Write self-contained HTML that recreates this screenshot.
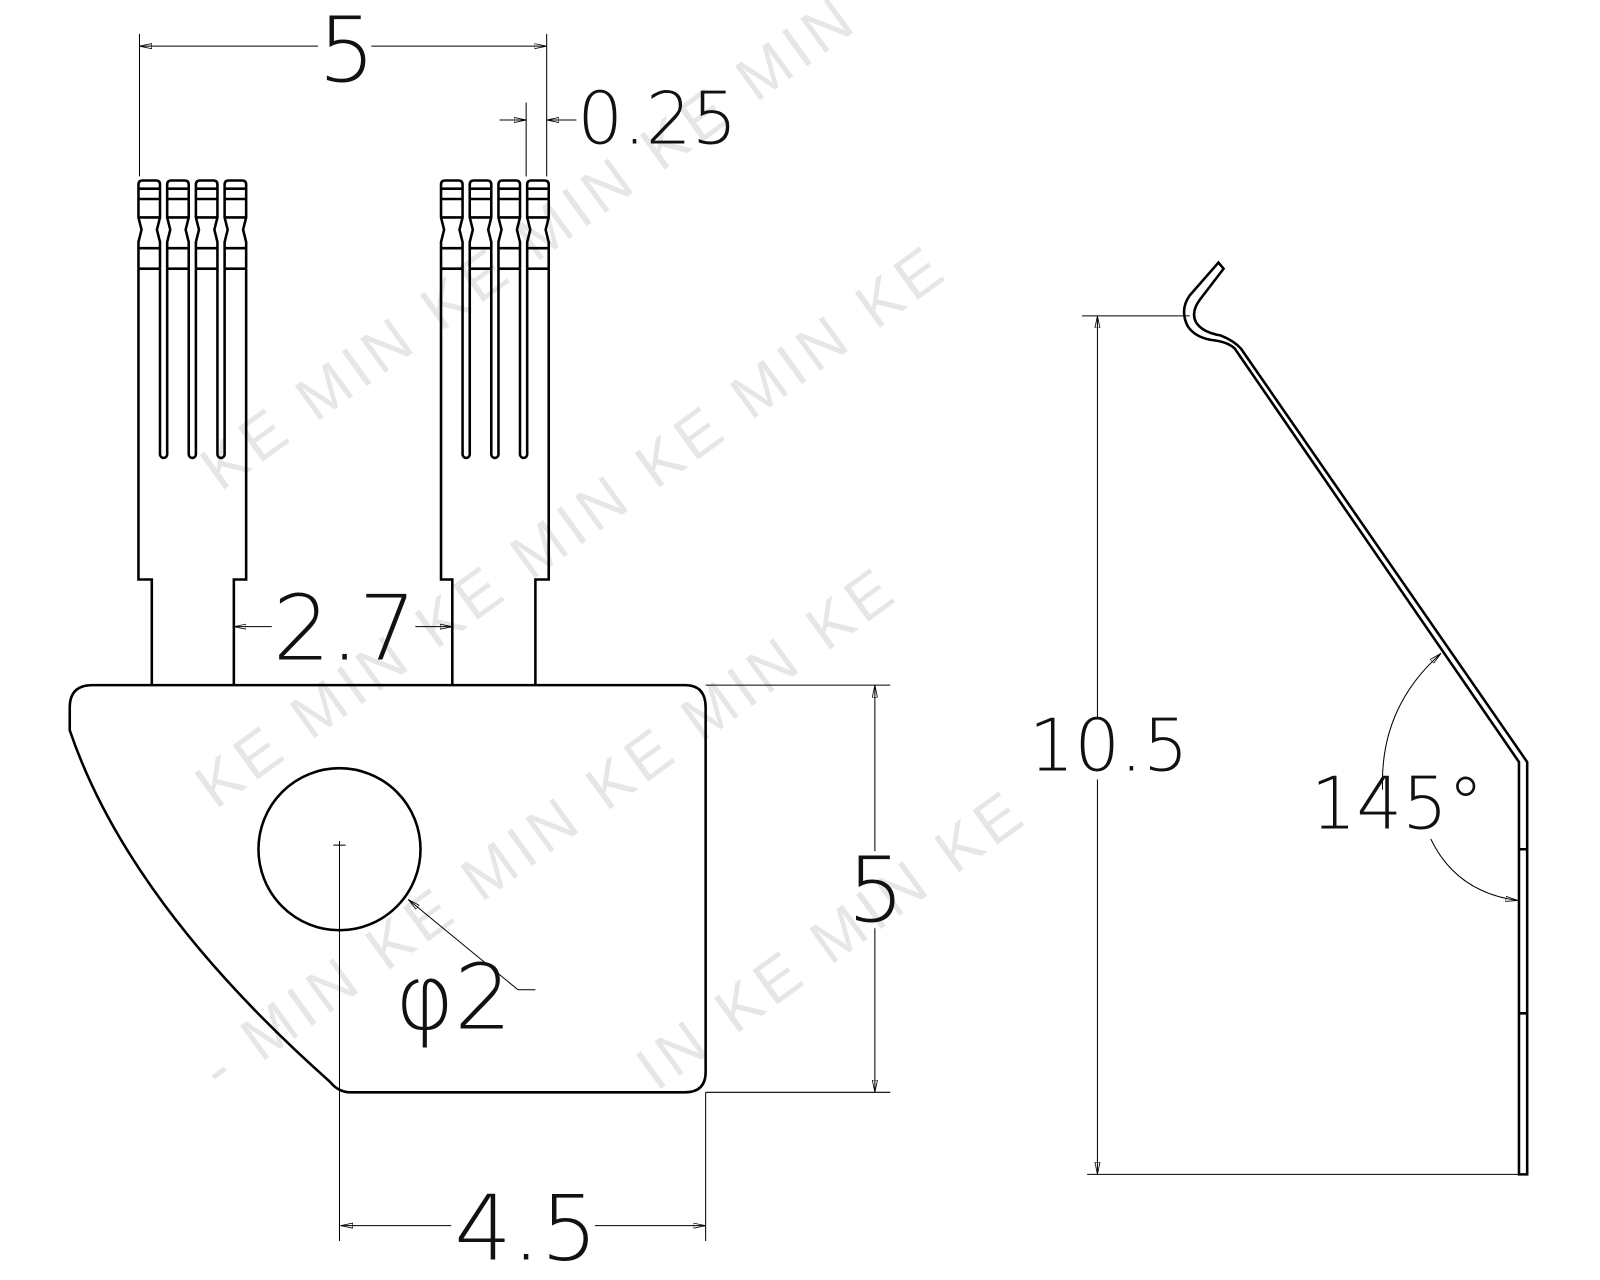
<!DOCTYPE html>
<html><head><meta charset="utf-8"><style>
html,body{margin:0;padding:0;background:#fff;}
svg{display:block;}
.d{font-family:"DejaVu Sans","Liberation Sans",sans-serif;font-weight:200;fill:#111;}
.w{font-family:"Liberation Sans",sans-serif;fill:#e6e6e6;font-size:60px;letter-spacing:6px;}
</style></head><body>
<svg width="1600" height="1280" viewBox="0 0 1560 1248" xmlns="http://www.w3.org/2000/svg">
<defs>
<marker id="a" viewBox="0 0 12 6" refX="12" refY="3" markerWidth="12" markerHeight="6" orient="auto-start-reverse" markerUnits="userSpaceOnUse"><path d="M0,0.5 L12,3 L0,5.5 Z" fill="none" stroke="#000" stroke-width="0.8"/></marker>
<g id="f" fill="none" stroke="#000" stroke-width="2.5">
<path d="M0,262 V236 L3,224 L0,212 V180 Q0,176 4,176 H17 Q21,176 21,180 V212 L18,224 L21,236 V262"/>
<path d="M0,184 H21 M0,194 H21 M0,212 H21 M0,242 H21 M0,262 H21"/>
</g>
</defs>
<g class="w">
<text transform="translate(215,480) rotate(-36)">KE MIN KE MIN KE MIN</text>
<text transform="translate(210,790) rotate(-36)">KE MIN KE MIN KE MIN KE</text>
<text transform="translate(215,1065) rotate(-36)">- MIN KE MIN KE MIN KE</text>
<text transform="translate(640,1065) rotate(-36)">IN KE MIN KE</text>
</g>
<g stroke="#000" stroke-width="1" fill="none">
<line x1="136" y1="33" x2="136" y2="172"/>
<line x1="533" y1="33" x2="533" y2="172"/>
<line x1="136" y1="45" x2="310" y2="45" marker-start="url(#a)"/>
<line x1="362" y1="45" x2="533" y2="45" marker-end="url(#a)"/>
<line x1="513" y1="100" x2="513" y2="172"/>
<line x1="487" y1="117" x2="513" y2="117" marker-end="url(#a)"/>
<line x1="562" y1="117" x2="533" y2="117" marker-end="url(#a)"/>
</g>
<text class="d" x="310" y="79" font-size="88">5</text>
<text class="d" x="563" y="140" font-size="70">0.25</text>
<use href="#f" x="135"/><use href="#f" x="163"/><use href="#f" x="191"/><use href="#f" x="219"/>
<use href="#f" x="430"/><use href="#f" x="458"/><use href="#f" x="486"/><use href="#f" x="514"/>
<g fill="none" stroke="#000" stroke-width="2.5">
<path d="M156,262 V443 A3.5,3.5 0 0 0 163,443 V262 M184,262 V443 A3.5,3.5 0 0 0 191,443 V262 M212,262 V443 A3.5,3.5 0 0 0 219,443 V262"/>
<path d="M451,262 V443 A3.5,3.5 0 0 0 458,443 V262 M479,262 V443 A3.5,3.5 0 0 0 486,443 V262 M507,262 V443 A3.5,3.5 0 0 0 514,443 V262"/>
<path d="M135,262 V565 H148 V668"/>
<path d="M240,262 V565 H228 V668"/>
<path d="M430,262 V565 H441 V668"/>
<path d="M535,262 V565 H522 V668"/>
<path d="M90,668 H668 Q688,668 688,690 V1045 Q688,1065 668,1065 H342 Q330,1065 322,1055 Q125,880 68,712 V690 Q68,668 90,668 Z"/>
<circle cx="331" cy="828" r="79"/>
</g>
<g stroke="#000" stroke-width="1" fill="none">
<line x1="265" y1="611" x2="228" y2="611" marker-end="url(#a)"/>
<line x1="405" y1="611" x2="441" y2="611" marker-end="url(#a)"/>
<line x1="331" y1="820" x2="331" y2="1210"/>
<line x1="325" y1="824" x2="337" y2="824"/>
<line x1="505" y1="965" x2="398" y2="877" marker-end="url(#a)"/>
<line x1="505" y1="965" x2="522" y2="965"/>
<line x1="688" y1="668" x2="868" y2="668"/>
<line x1="688" y1="1065" x2="868" y2="1065"/>
<line x1="853" y1="830" x2="853" y2="668" marker-end="url(#a)"/>
<line x1="853" y1="905" x2="853" y2="1065" marker-end="url(#a)"/>
<line x1="688" y1="1065" x2="688" y2="1210"/>
<line x1="440" y1="1195" x2="332" y2="1195" marker-end="url(#a)"/>
<line x1="580" y1="1195" x2="688" y2="1195" marker-end="url(#a)"/>
</g>
<text class="d" x="266" y="643" font-size="88">2.7</text>
<text class="d" x="385" y="1003" font-size="88">φ2</text>
<text class="d" x="826" y="898" font-size="88">5</text>
<text class="d" x="443" y="1228" font-size="88">4.5</text>
<g fill="none" stroke="#000" stroke-width="2.5">
<path d="M1188,256 L1160,288 Q1150,302 1158,318 Q1166,330 1185,332 Q1198,334 1204,340 L1481,743 V1145 H1489 V743 L1210,340 Q1203,332 1190,327 Q1172,324 1166,314 Q1161,304 1170,292 L1193,262 Z"/>
<path d="M1481,828 H1489 M1481,988 H1489"/>
</g>
<g stroke="#000" stroke-width="1" fill="none">
<line x1="1055" y1="308" x2="1160" y2="308"/>
<line x1="1060" y1="1145" x2="1481" y2="1145"/>
<line x1="1070" y1="700" x2="1070" y2="308" marker-end="url(#a)"/>
<line x1="1070" y1="760" x2="1070" y2="1145" marker-end="url(#a)"/>
<path d="M1348,770 Q1345,690 1405,637" marker-end="url(#a)"/>
<path d="M1395,818 Q1420,870 1480,878" marker-end="url(#a)"/>
</g>
<text class="d" x="1003" y="751" font-size="70">10.5</text>
<text class="d" x="1278" y="808" font-size="70">145°</text>
</svg>
</body></html>
